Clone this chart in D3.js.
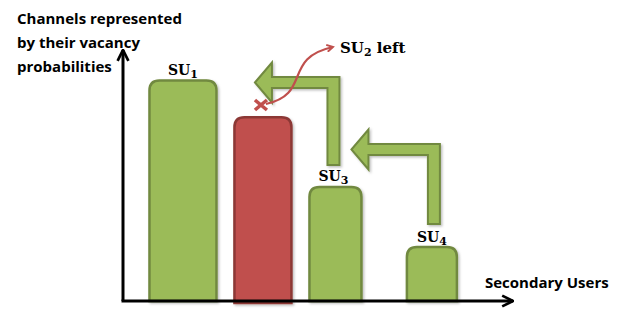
<!DOCTYPE html>
<html>
<head>
<meta charset="utf-8">
<script src="https://cdn.jsdelivr.net/npm/d3@7"></script>
<style>
  body { margin: 0; background: #fff; }
  svg { display: block; }
</style>
</head>
<body>
<div id="chart"></div>
<script>
// channels, ordered by vacancy probability
var users = ["SU1", "SU2", "SU3", "SU4"];
var vacancy = [0.9, 0.75, 0.465, 0.22];
var slot = [0.153, 0.357, 0.542, 0.788];   // where each channel sits along the x axis
var userState = ["stay", "left", "stay", "stay"];

var W = 620, H = 309;
var ox = 123, oy = 301;

var svg = d3.select("#chart").append("svg")
  .attr("width", W).attr("height", H);

var defs = svg.append("defs");
var sh = defs.append("filter").attr("id", "sh")
  .attr("x", "-20%").attr("y", "-20%").attr("width", "140%").attr("height", "140%");
sh.append("feDropShadow").attr("dx", 1.5).attr("dy", 1.5).attr("stdDeviation", 1.2)
  .attr("flood-color", "#000").attr("flood-opacity", 0.25);

defs.append("marker").attr("id", "ah")
  .attr("viewBox", "0 0 10 10").attr("refX", 9).attr("refY", 5)
  .attr("markerWidth", 4.5).attr("markerHeight", 4.5).attr("orient", "auto")
  .append("path").attr("d", "M1,1 L9,5 L1,9").attr("fill", "none")
  .attr("stroke", "#000").attr("stroke-width", 2);

defs.append("marker").attr("id", "rh")
  .attr("viewBox", "0 0 10 10").attr("refX", 8).attr("refY", 5)
  .attr("markerWidth", 4).attr("markerHeight", 4).attr("orient", "auto")
  .append("path").attr("d", "M1,1 L8,5 L1,9").attr("fill", "none")
  .attr("stroke", "#C0504D").attr("stroke-width", 2.2);

var x = d3.scaleLinear().domain([0, 1]).range([ox, 515]);
var y = d3.scaleLinear().domain([0, 1]).range([oy, 56]);
var bw = [67, 57, 52, 50];

var green = "#9BBB59", greenEdge = "#71893F";
var red = "#C0504D", redEdge = "#8C3836";

// bars with rounded tops
function barPath(i) {
  var cx = x(slot[i]), w = bw[i], x0 = cx - w / 2, x1 = cx + w / 2;
  var t = y(vacancy[i]), b = oy + (userState[i] == "left" ? 2 : 0), r = 10;
  return "M" + x0 + "," + b + " L" + x0 + "," + (t + r) +
    " Q" + x0 + "," + t + " " + (x0 + r) + "," + t +
    " L" + (x1 - r) + "," + t + " Q" + x1 + "," + t + " " + x1 + "," + (t + r) +
    " L" + x1 + "," + b + " Z";
}

svg.selectAll(".bar").data(users).enter().append("path")
  .attr("class", "bar")
  .attr("d", function(d, i) { return barPath(i); })
  .attr("fill", function(d, i) { return userState[i] == "left" ? red : green; })
  .attr("stroke", function(d, i) { return userState[i] == "left" ? redEdge : greenEdge; })
  .attr("stroke-width", 2.5)
  .attr("filter", "url(#sh)");

// axes
svg.append("line").attr("x1", ox).attr("y1", oy).attr("x2", ox).attr("y2", 50)
  .attr("stroke", "#000").attr("stroke-width", 3).attr("marker-end", "url(#ah)");
svg.append("line").attr("x1", ox - 1.5).attr("y1", oy).attr("x2", 513).attr("y2", oy)
  .attr("stroke", "#000").attr("stroke-width", 3).attr("marker-end", "url(#ah)");

// bent arrows: SU3 -> slot of SU2, SU4 -> slot of SU3
function bentArrow(from, to, tipDx, shaftBottom, bodyY) {
  var sx = x(slot[from]) - 2 + (from == 3 ? 4 : 0), hw = 6, bh = 5.5;
  var tip = x(slot[to]) + tipDx;
  var hx = tip + 17;
  return "M" + tip + "," + bodyY +
    " L" + hx + "," + (bodyY - 20) + " L" + hx + "," + (bodyY - bh) +
    " L" + (sx + hw) + "," + (bodyY - bh) + " L" + (sx + hw) + "," + shaftBottom +
    " L" + (sx - hw) + "," + shaftBottom + " L" + (sx - hw) + "," + (bodyY + bh) +
    " L" + hx + "," + (bodyY + bh) + " L" + hx + "," + (bodyY + 20) + " Z";
}
svg.append("path").attr("d", bentArrow(2, 1, -8, 165, 82.5))
  .attr("fill", green).attr("stroke", greenEdge).attr("stroke-width", 2)
  .attr("filter", "url(#sh)");
svg.append("path").attr("d", bentArrow(3, 2, 16, 224, 149.5))
  .attr("fill", green).attr("stroke", greenEdge).attr("stroke-width", 2)
  .attr("filter", "url(#sh)");

// SU2 leaves: cross + curved red arrow
var cxm = x(slot[1]) - 2, cym = 105;
svg.append("path")
  .attr("d", "M" + (cxm - 6) + "," + (cym - 5) + " L" + (cxm + 6) + "," + (cym + 5) +
    " M" + (cxm - 6) + "," + (cym + 5) + " L" + (cxm + 6) + "," + (cym - 5))
  .attr("stroke", red).attr("stroke-width", 3.5).attr("fill", "none");
svg.append("path")
  .attr("d", "M" + (cxm + 5) + "," + (cym - 1) + " C 312,94 282,58 333,47")
  .attr("stroke", red).attr("stroke-width", 2.2).attr("fill", "none")
  .attr("marker-end", "url(#rh)");

// SU labels
var labelY = [75, null, 181, 242];
var labelDx = [0, 0, -2, 0];
users.forEach(function(u, i) {
  if (userState[i] == "left") return;
  var t = svg.append("text")
    .attr("x", x(slot[i]) + labelDx[i]).attr("y", labelY[i])
    .attr("text-anchor", "middle")
    .attr("font-family", "DejaVu Serif").attr("font-weight", "bold")
    .attr("font-size", 14).attr("fill", "#000");
  t.append("tspan").text("SU");
  t.append("tspan").text(u.slice(2)).attr("font-size", 11).attr("dy", 3);
});

var lt = svg.append("text").attr("x", 340).attr("y", 53)
  .attr("font-family", "DejaVu Serif").attr("font-weight", "bold")
  .attr("font-size", 15).attr("fill", "#000");
lt.append("tspan").text("SU");
lt.append("tspan").text(users[1].slice(2)).attr("font-size", 11).attr("dy", 3);
lt.append("tspan").text(" left").attr("dy", -3);

// axis titles
var yTitle = ["Channels represented", "by their vacancy", "probabilities"];
svg.append("g").selectAll("text").data(yTitle).enter().append("text")
  .attr("x", 17).attr("y", function(d, i) { return 24 + i * 24; })
  .attr("font-family", "Open Sans").attr("font-weight", "bold")
  .attr("font-size", 15).attr("fill", "#000")
  .text(function(d) { return d; });

svg.append("text").attr("x", 485).attr("y", 288)
  .attr("font-family", "Open Sans").attr("font-weight", "bold")
  .attr("font-size", 15).attr("fill", "#000")
  .text("Secondary Users");
</script>
</body>
</html>
